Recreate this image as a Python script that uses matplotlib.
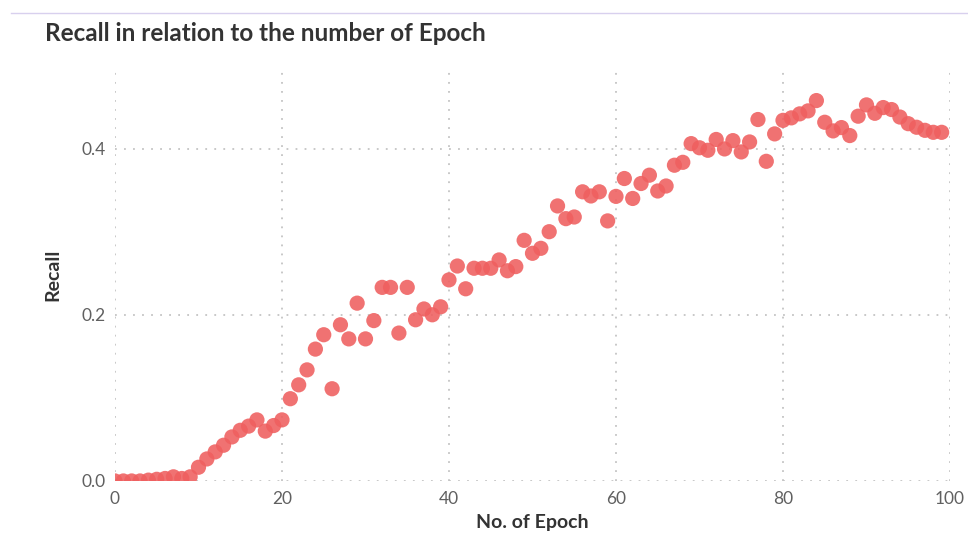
import numpy as np
import matplotlib.pyplot as plt
from matplotlib.lines import Line2D

# epochs 0..99 and recall
epoch = list(range(100))
recall = [0.0, 0.0, 0.0, 0.0, 0.001, 0.002, 0.003, 0.005, 0.003, 0.005,
          0.0165, 0.0265, 0.035, 0.043, 0.053, 0.061, 0.066, 0.0735, 0.060, 0.0667,
          0.0735, 0.099, 0.1157, 0.1337, 0.1587, 0.176, 0.111, 0.188, 0.171, 0.214,
          0.171, 0.193, 0.233, 0.233, 0.178, 0.233, 0.194, 0.207, 0.200, 0.2096,
          0.242, 0.2587, 0.2313, 0.256, 0.256, 0.256, 0.266, 0.253, 0.258, 0.2896,
          0.274, 0.280, 0.300, 0.331, 0.3157, 0.3177, 0.348, 0.343, 0.348, 0.313,
          0.3425, 0.364, 0.340, 0.358, 0.368, 0.349, 0.355, 0.380, 0.3835, 0.406,
          0.401, 0.398, 0.411, 0.3996, 0.4096, 0.396, 0.408, 0.435, 0.3847, 0.4177,
          0.434, 0.437, 0.4418, 0.4454, 0.4578, 0.4317, 0.4213, 0.4253, 0.4157, 0.439,
          0.4526, 0.4425, 0.4494, 0.447, 0.438, 0.430, 0.4257, 0.422, 0.4196, 0.4196]

xticks = [0, 20, 40, 60, 80, 100]
yticks = [0.0, 0.2, 0.4]

plt.rcParams['font.family'] = ['Lato', 'DejaVu Sans']

fig = plt.figure(figsize=(9.68, 5.38), dpi=100)
ax = fig.add_axes([0.1188, 0.106, 0.8626, 0.7676])

ax.scatter(epoch, recall, s=120, color='#EF5F5F', alpha=0.88, edgecolors='none', zorder=3)

ax.set_xlim(0, 100)
ax.set_ylim(0, 0.497)
ax.set_xticks(xticks)
ax.set_yticks(yticks)
ax.set_yticklabels([f'{v:.1f}' for v in yticks])
ax.grid(True, linestyle=(0, (1, 4)), color='#C4C4C4', linewidth=1.3)
for s in ax.spines.values():
    s.set_visible(False)
ax.tick_params(length=0, labelsize=12.5, labelcolor='#606060', pad=7)

ax.set_xlabel('No. of Epoch', fontsize=14, fontweight='bold', color='#333333', labelpad=5)
ax.set_ylabel('Recall', fontsize=14, fontweight='bold', color='#333333', labelpad=14)

fig.text(0.046, 0.937, 'Recall in relation to the number of Epoch', fontsize=17.5,
         color='#333333', va='center', ha='left', fontweight='bold')

# thin border line at the top
fig.add_artist(Line2D([0.011, 1.0], [0.976, 0.976], color='#D8D0EE', linewidth=1))

fig.savefig('out.png', dpi=100)
